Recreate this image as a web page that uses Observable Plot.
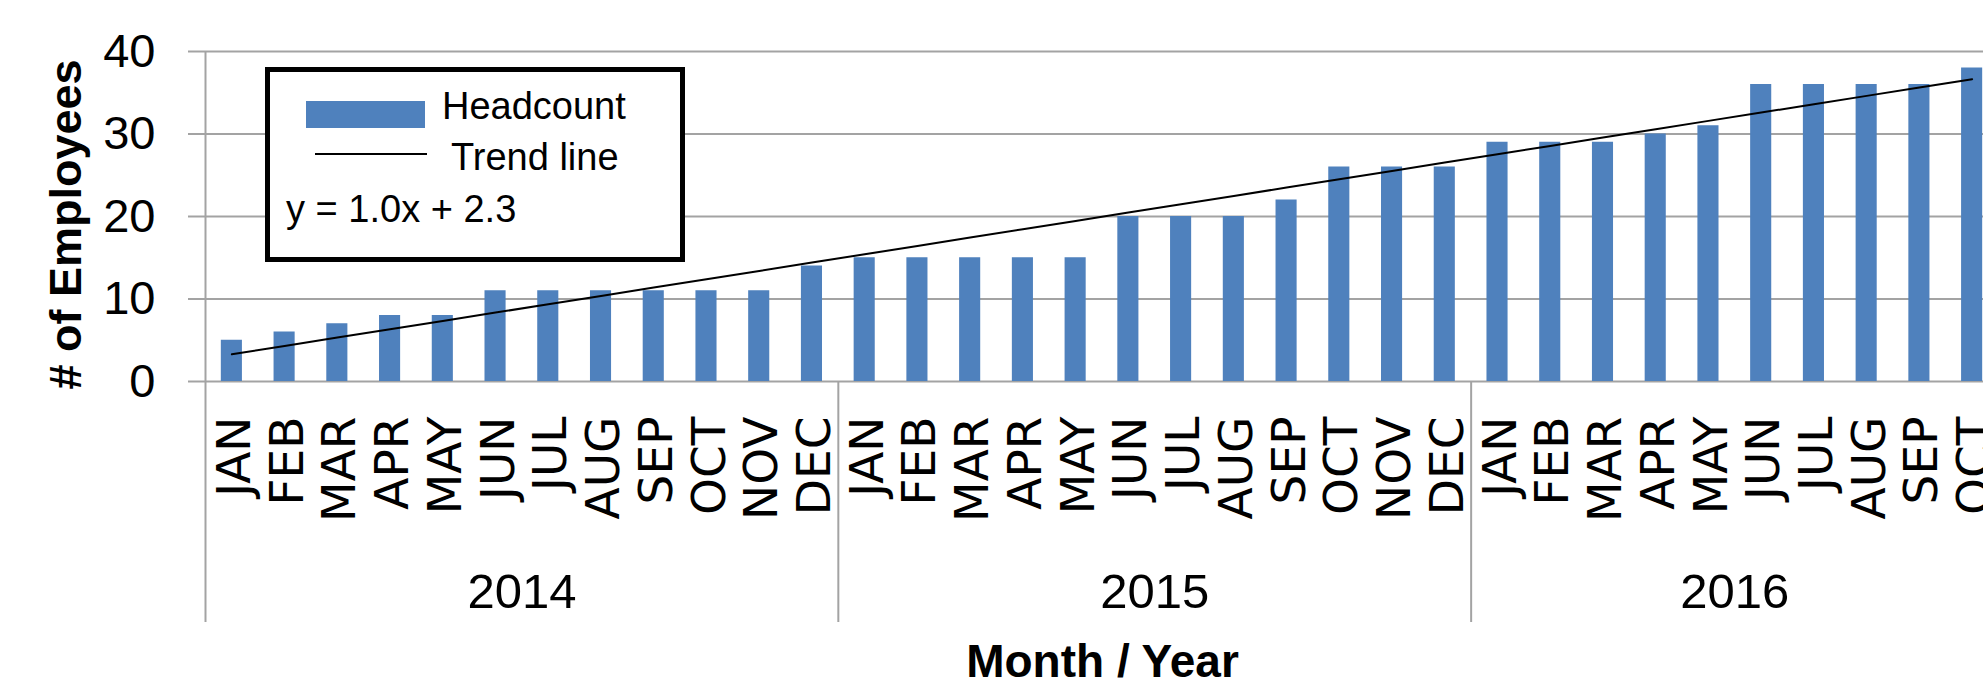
<!DOCTYPE html>
<html>
<head>
<meta charset="utf-8">
<script src="https://cdn.jsdelivr.net/npm/d3@7"></script>
<script src="https://cdn.jsdelivr.net/npm/@observablehq/plot@0.6"></script>
<style>
  html, body { margin: 0; padding: 0; background: #fff; }
  svg { display: block; }
</style>
</head>
<body>
<div id="chart"></div>
<script>
// ---- data ----
const yearLabels = ["2014", "2015", "2016"];
const monthsPerYear = [12, 12, 10];
const monthLabels = [
  "JAN","FEB","MAR","APR","MAY","JUN","JUL","AUG","SEP","OCT","NOV","DEC",
  "JAN","FEB","MAR","APR","MAY","JUN","JUL","AUG","SEP","OCT","NOV","DEC",
  "JAN","FEB","MAR","APR","MAY","JUN","JUL","AUG","SEP","OCT"
];
const headcount = [
  5, 6, 7, 8, 8, 11, 11, 11, 11, 11, 11, 14,
  15, 15, 15, 15, 15, 20, 20, 20, 22, 26, 26, 26,
  29, 29, 29, 30, 31, 36, 36, 36, 36, 38
];
const yTicks = [0, 10, 20, 30, 40];
const seriesLabel = "Headcount";
const trendLabel = "Trend line";
const equationLabel = "y = 1.0x + 2.3";
const yTitle = "# of Employees";
const xTitle = "Month / Year";

// ---- build table ----
const yearOf = [];
yearLabels.forEach((y, i) => { for (let k = 0; k < monthsPerYear[i]; k++) yearOf.push(y); });
const data = headcount.map((v, i) => ({ key: yearOf[i] + "-" + monthLabels[i], month: monthLabels[i], year: yearOf[i], value: v, idx: i + 1 }));

// least-squares trend (as Excel's linear trendline)
const n = data.length;
const mx = d3.mean(data, d => d.idx), my = d3.mean(data, d => d.value);
const slope = d3.sum(data, d => (d.idx - mx) * (d.value - my)) / d3.sum(data, d => (d.idx - mx) ** 2);
const intercept = my - slope * mx;
const trend = data.map(d => ({ key: d.key, fit: intercept + slope * d.idx }));

// year group helpers
const yearStarts = [];
const yearMids = [];
let acc = 0;
yearLabels.forEach((y, i) => {
  yearStarts.push(data[acc]);
  yearMids.push({ key: data[acc + monthsPerYear[i] / 2].key, year: y });
  acc += monthsPerYear[i];
});

// ---- layout ----
const W = 1983, H = 687;
const xRange = [205, 1998];
const step = (xRange[1] - xRange[0]) / n;
const gridColor = "#a3a3a3";
const sans = "'Liberation Sans', Arial, sans-serif";

const plot = Plot.plot({
  width: W,
  height: H,
  marginTop: 51,
  marginBottom: 306,
  marginLeft: 205,
  marginRight: 0,
  style: { background: "#fff", fontFamily: sans, overflow: "visible", color: "#000" },
  x: { domain: data.map(d => d.key), range: xRange, paddingInner: 0.6, paddingOuter: 0.3, round: false, axis: null },
  y: { domain: [0, 40], axis: null },
  marks: [
    Plot.gridY(yTicks, { stroke: gridColor, strokeOpacity: 1, strokeWidth: 2 }),
    Plot.axisY(yTicks, { tickSize: 17, tickPadding: 33, fontSize: 47, stroke: gridColor, strokeWidth: 2, fill: "#000", tickFormat: d => String(d), label: null }),
    Plot.barY(data, { x: "key", y: "value", fill: "#4F81BD" }),
    Plot.line(trend, { x: "key", y: "fit", stroke: "#000", strokeWidth: 2 }),
    // left axis line and year separators
    Plot.ruleX(yearStarts.slice(0, 1), { x: "key", dx: -step / 2, stroke: gridColor, strokeWidth: 2, insetBottom: -241 }),
    Plot.ruleX(yearStarts.slice(1), { x: "key", dx: -step / 2, stroke: gridColor, strokeWidth: 2, insetTop: 330, insetBottom: -241 }),
    // month labels
    Plot.text(data, { x: "key", text: "month", frameAnchor: "bottom", lineAnchor: "middle", rotate: -90, textAnchor: "end", dy: 35, dx: 3, fontSize: 47, fontFamily: "'DejaVu Sans', sans-serif", fill: "#000" }),
    // year labels
    Plot.text(yearMids, { x: "key", text: "year", frameAnchor: "bottom", lineAnchor: "middle", dx: -step / 2, dy: 211, fontSize: 49, fill: "#000" }),
    // axis titles
    Plot.text([yTitle], { frameAnchor: "left", lineAnchor: "middle", textAnchor: "middle", rotate: -90, dx: -139, dy: 8, fontSize: 45, fontWeight: "bold", fill: "#000" }),
    Plot.text([xTitle], { frameAnchor: "bottom", lineAnchor: "middle", dx: 8, dy: 281, fontSize: 46, fontWeight: "bold", fill: "#000" })
  ]
});

// ---- legend box (inside the plot area, top-left) ----
const svg = d3.select(plot);
const lg = svg.append("g").attr("font-family", sans).attr("fill", "#000").attr("text-anchor", "start");
lg.append("rect").attr("x", 267.5).attr("y", 69.5).attr("width", 415).attr("height", 190)
  .attr("fill", "#fff").attr("stroke", "#000").attr("stroke-width", 5);
lg.append("rect").attr("x", 306).attr("y", 101).attr("width", 119).attr("height", 27).attr("fill", "#4F81BD");
lg.append("line").attr("x1", 315).attr("x2", 427).attr("y1", 154).attr("y2", 154).attr("stroke", "#000").attr("stroke-width", 2);
lg.append("text").attr("x", 442).attr("y", 119).attr("font-size", 38).text(seriesLabel);
lg.append("text").attr("x", 451).attr("y", 170).attr("font-size", 38).text(trendLabel);
lg.append("text").attr("x", 286).attr("y", 222).attr("font-size", 38).text(equationLabel);

document.getElementById("chart").appendChild(plot);
</script>
</body>
</html>
